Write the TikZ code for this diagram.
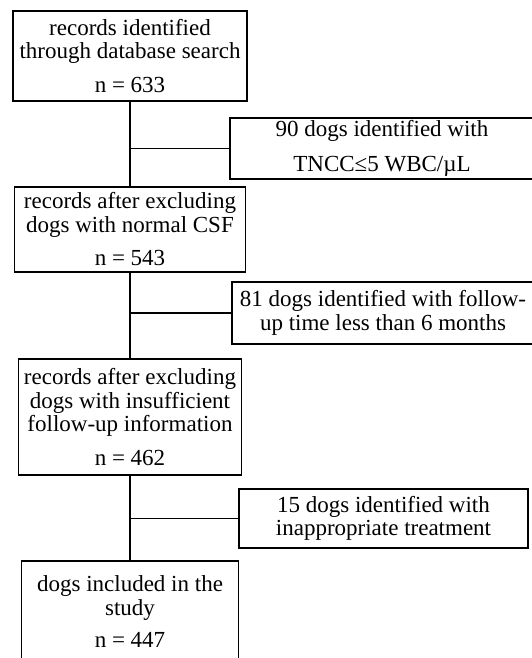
\documentclass[tikz,border=0pt]{standalone}
\usepackage{fontspec}
\setmainfont{Liberation Serif}
\begin{document}
\begin{tikzpicture}[x=1pt,y=-1pt,line width=1.5pt,
        box/.style={draw,align=center,inner sep=0pt,font=\fontsize{23}{23.5}\selectfont}]
        \useasboundingbox (0,0) rectangle (531,658);
        \node[box,minimum width=234pt,minimum height=90pt] (search) at (130,56) {records identified\\through database search\\[10pt]n = 633};
        \node[box,minimum width=231pt,minimum height=85pt] (normal) at (130,229.5) {records after excluding\\dogs with normal CSF\\[10pt]n = 543};
        \node[box,minimum width=223pt,minimum height=116pt] (insuff) at (130,417) {records after excluding\\dogs with insufficient\\follow-up information\\[10pt]n = 462};
        \node[box,minimum width=217pt,minimum height=102pt] (study) at (130,612) {dogs included in the\\study\\[9pt]n = 447};
        \node[box,minimum width=304pt,minimum height=61pt] (csf) at (382,148.5) {90 dogs identified with\\[11pt]TNCC≤5 WBC/µL};
        \node[box,minimum width=302pt,minimum height=62pt] (time) at (383,313) {81 dogs identified with follow-\\up time less than 6 months};
        \node[box,minimum width=289pt,minimum height=59pt] (treat) at (383.5,518.5) {15 dogs identified with\\inappropriate treatment};
        \draw (search) -- (normal);
        \draw (normal) -- (insuff);
        \draw (insuff) -- (study);
        \draw (search |- csf) -- (csf);
        \draw (normal |- time) -- (time);
        \draw (insuff |- treat) -- (treat);
\end{tikzpicture}
\end{document}
